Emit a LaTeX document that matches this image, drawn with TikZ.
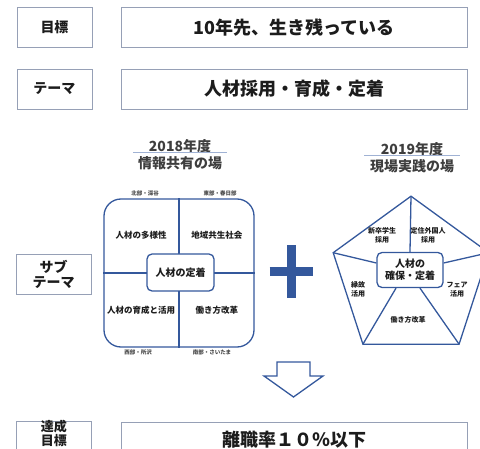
\documentclass[tikz,border=0pt]{standalone}
\usepackage{fontspec}
\setmainfont{Noto Sans CJK JP}
\usetikzlibrary{shapes.geometric, arrows.meta, positioning, calc}
\definecolor{lineblue}{RGB}{52,88,156}
\definecolor{boxgray}{RGB}{150,160,182}
\definecolor{ulblue}{RGB}{160,178,212}
\definecolor{txt}{RGB}{28,28,28}

\begin{document}
\begin{tikzpicture}[x=1pt, y=-1pt, text=txt,
    tag/.style={draw=boxgray, line width=0.8pt, minimum width=75pt, minimum height=40pt,
                inner sep=0pt, align=center, font=\fontsize{14}{15}\selectfont\bfseries},
    wide/.style={draw=boxgray, line width=0.8pt, minimum width=346pt, minimum height=40pt,
                inner sep=0pt, font=\fontsize{18}{20}\selectfont\bfseries},
    title/.style={inner sep=0pt, font=\fontsize{14}{16}\selectfont\bfseries, text=txt!85},
    quad/.style={inner sep=0pt, font=\fontsize{8.5}{10}\selectfont\bfseries},
    area/.style={inner sep=0pt, font=\fontsize{5.5}{6}\selectfont\bfseries, text=txt!80},
    pent/.style={inner sep=0pt, align=center, font=\fontsize{7}{9}\selectfont\bfseries},
    core/.style={draw=lineblue, line width=1.3pt, rounded corners=5pt, fill=white,
                 inner sep=0pt, align=center, font=\fontsize{10}{12}\selectfont\bfseries},
    blueline/.style={draw=lineblue, line width=1.3pt},
    uline/.style={draw=ulblue, line width=1pt}]
    \useasboundingbox (0,0) rectangle (480,449);
    \clip (0,0) rectangle (480,449);

    % left column and wide boxes
    \node (goal) [tag] at (54.5,27.5) {目標};
    \node (goalt) [wide] at (294,27.5) {10年先、生き残っている};
    \node (theme) [tag] at (54.5,89) {テーマ};
    \node (themet) [wide] at (294,89) {人材採用・育成・定着};
    \node (sub) [tag] at (53.5,274) {サブ\\テーマ};
    \node (res) [tag, minimum height=30pt] at (54,436) {};
    \node (rest) [wide] at (294,442) {};
    \node (rest label) [font=\fontsize{18}{20}\selectfont\bfseries, inner sep=0pt] at (294,439.5) {離職率１０％以下};
    \node (res label) [font=\fontsize{13}{14.5}\selectfont\bfseries, inner sep=0pt, align=center] at (54,433.5) {達成\\目標};

    % 2018
    \node (yr18) [title, minimum width=94pt] at (180,146) {2018年度};
    \node (pl18) [title, below=3pt of yr18] {情報共有の場};
    \draw [uline] (yr18.south west) -- (yr18.south east);

    \node (sq) [blueline, rounded corners=17pt, minimum width=150pt, minimum height=148pt] at (179,273) {};
    \draw [blueline] (sq.north) -- (sq.south) (sq.west) -- (sq.east);
    \node (ctr) [core, minimum width=67pt, minimum height=37pt] at (180.5,272.5) {人材の定着};

    \node (q1) [quad] at ($(sq.center)!0.5!(sq.north west)$) {人材の多様性};
    \node (q2) [quad] at ($(sq.center)!0.5!(sq.north east)$) {地域共生社会};
    \node (q3) [quad] at ($(sq.center)!0.5!(sq.south west)$) {人材の育成と活用};
    \node (q4) [quad] at ($(sq.center)!0.5!(sq.south east)$) {働き方改革};

    \node (nw) [area] at (145,193) {北部・深谷};
    \node (ne) [area] at (220,193) {東部・春日部};
    \node (sw) [area] at (138,352) {西部・所沢};
    \node (se) [area] at (212,352) {南部・さいたま};

    % plus
    \coordinate (plus) at (291,272);
    \draw [lineblue, line width=9pt]
        ($(plus)+(-21.5,0)$) -- ($(plus)+(21.5,0)$)
        ($(plus)+(0,-26.5)$) -- ($(plus)+(0,26.5)$);

    % 2019
    \node (yr19) [title, minimum width=95pt] at (412,149) {2019年度};
    \node (pl19) [title, below=3pt of yr19] {現場実践の場};
    \draw [uline] (yr19.south west) -- (yr19.south east);

    \node (pg) [blueline, regular polygon, regular polygon sides=5, minimum size=163.6pt,
                inner sep=0pt, outer sep=0pt] at (411,278) {};
    \node (pin) [core, minimum width=66pt, minimum height=35pt] at (410,270) {人材の\\確保・定着};
    \draw [blueline]
        (pg.corner 1) -- (pin.north)
        (pg.corner 2) -- ($(pin.west)+(0,-7)$)
        (pg.corner 5) -- ($(pin.east)+(0,-7)$)
        (pg.corner 3) -- ($(pin.south)+(-14,0)$)
        (pg.corner 4) -- ($(pin.south)+(10,0)$);

    \node (p1) [pent] at (382,235) {新卒学生\\採用};
    \node (p2) [pent] at (428,235) {定住外国人\\採用};
    \node (p3) [pent] at (358,289) {縁故\\活用};
    \node (p4) [pent] at (457,290) {フェア\\活用};
    \node (p5) [pent] at (408,320) {働き方改革};

    % down arrow
    \coordinate (arr) at (293.5,362);
    \draw [lineblue, line width=1.3pt, line join=miter]
        ($(arr)+(-16.5,0)$) -- ($(arr)+(16.5,0)$) -- ($(arr)+(16.5,14)$) -- ($(arr)+(29.5,14)$)
        -- ($(arr)+(0,35)$) -- ($(arr)+(-29.5,14)$) -- ($(arr)+(-16.5,14)$) -- cycle;
\end{tikzpicture}
\end{document}
